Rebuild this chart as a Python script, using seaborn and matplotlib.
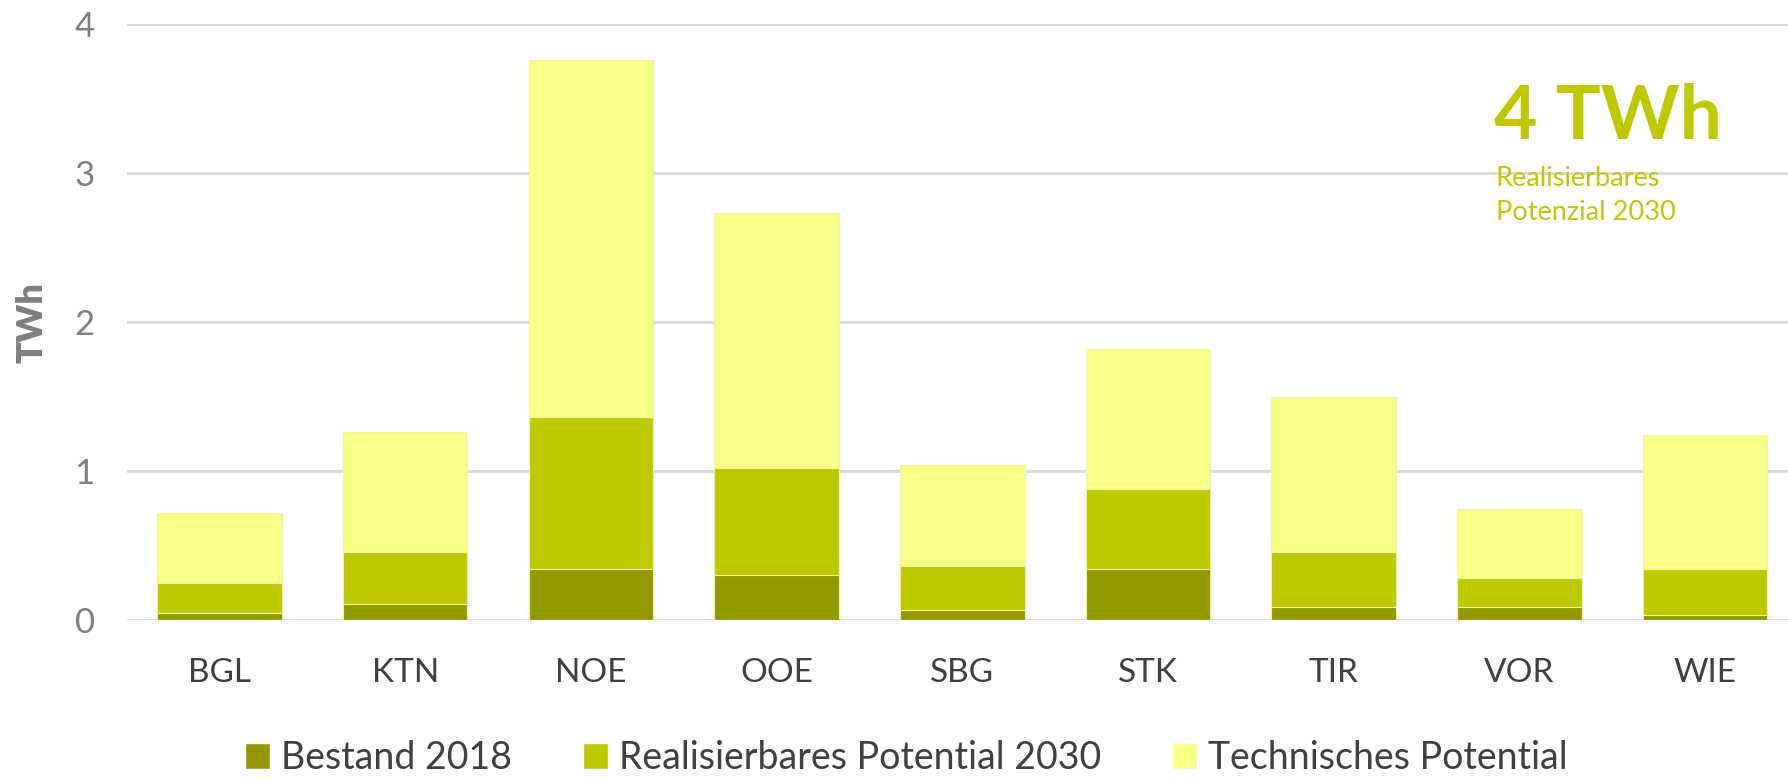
import pandas as pd
import numpy as np
import seaborn as sns
import matplotlib.pyplot as plt
from matplotlib.patches import Patch

sns.set_theme(style="white")
plt.rcParams['font.family'] = ['Lato', 'DejaVu Sans']

# Bundeslaender und Werte (TWh), jeweils Hoehe ab 0
regions = ['BGL', 'KTN', 'NOE', 'OOE', 'SBG', 'STK', 'TIR', 'VOR', 'WIE']
bestand_2018 = [0.05, 0.11, 0.34, 0.30, 0.07, 0.34, 0.09, 0.09, 0.035]
realisierbar_2030 = [0.25, 0.455, 1.36, 1.02, 0.36, 0.88, 0.46, 0.285, 0.345]
technisch = [0.72, 1.26, 3.76, 2.735, 1.04, 1.82, 1.495, 0.745, 1.245]
y_ticks = [0, 1, 2, 3, 4]

c_bestand = '#939a00'
c_real = '#bec900'
c_tech = '#f8ff85'
c_grey = '#7f7f7f'
c_text = '#404040'

df = pd.DataFrame({'Region': regions, 'Bestand': bestand_2018,
                   'Real': realisierbar_2030, 'Tech': technisch})

fig = plt.figure(figsize=(17.88, 7.79), dpi=100)
ax = fig.add_axes([0.0709, 0.204, 0.9346, 0.765])

# Balken uebereinander (jeder ab 0), groesster zuerst
bar_kw = dict(saturation=1, width=0.67, ax=ax, linewidth=0.8, edgecolor='#eef3b0')
sns.barplot(data=df, x='Region', y='Tech', color=c_tech, zorder=3, **bar_kw)
sns.barplot(data=df, x='Region', y='Real', color=c_real, zorder=4, **bar_kw)
sns.barplot(data=df, x='Region', y='Bestand', color=c_bestand, zorder=5, **bar_kw)

ax.set_ylim(0, 4)
ax.set_xlim(-0.5, len(regions) - 0.5)
ax.set_yticks(y_ticks)
ax.set_yticklabels([str(t) for t in y_ticks])
ax.yaxis.grid(True, color='#dcdcdc', linewidth=2.2, zorder=0)
ax.set_axisbelow(True)
for s in ax.spines.values():
    s.set_visible(False)
ax.tick_params(axis='y', labelsize=25, labelcolor=c_grey, pad=23, length=0)
ax.tick_params(axis='x', labelsize=24, labelcolor=c_text, pad=27, length=0)
ax.set_xlabel('')
ylab = ax.set_ylabel('TWh', fontsize=26, fontweight='heavy', color=c_grey)
ylab.set_va('center')
ylab.set_ha('center')
ax.yaxis.set_label_coords(-0.057, 0.5)

# Kennzahl oben rechts
fig.text(0.8356, 1 - 139 / 779, '4 TWh', fontsize=54, fontweight='bold', color=c_real,
         ha='left', va='baseline')
fig.text(0.8366, 1 - 186 / 779, 'Realisierbares', fontsize=19.5, color=c_real,
         ha='left', va='baseline')
fig.text(0.8366, 1 - 220 / 779, 'Potenzial 2030', fontsize=19.5, color=c_real,
         ha='left', va='baseline')

handles = [Patch(facecolor=c_bestand, label='Bestand 2018'),
           Patch(facecolor=c_real, label='Realisierbares Potential 2030'),
           Patch(facecolor=c_tech, label='Technisches Potential')]
leg = fig.legend(handles=handles, loc='center', bbox_to_anchor=(0.507, 0.027), ncol=3,
                 frameon=False, fontsize=27, handlelength=0.65, handleheight=0.7,
                 handletextpad=0.3, columnspacing=1.9)
for t in leg.get_texts():
    t.set_color(c_text)

fig.savefig('out.png', dpi=100)
